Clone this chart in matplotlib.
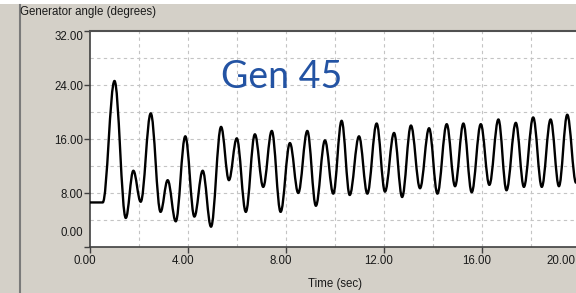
import matplotlib
matplotlib.use("Agg")
import matplotlib.pyplot as plt
import matplotlib.transforms as mtransforms
from matplotlib.patches import Rectangle, PathPatch
from matplotlib.lines import Line2D
from matplotlib.path import Path

# generator angle trace (turning points)
time_s = [0.00, 0.52, 1.00, 1.46, 1.77, 2.07, 2.48, 2.88, 3.17, 3.50,
          3.89, 4.26, 4.60, 4.94, 5.35, 5.67, 5.99, 6.36, 6.73, 7.07,
          7.42, 7.78, 8.16, 8.50, 8.87, 9.22, 9.59, 9.93, 10.27, 10.60,
          10.98, 11.32, 11.70, 12.04, 12.41, 12.74, 13.10, 13.47, 13.84, 14.18,
          14.56, 14.90, 15.24, 15.58, 15.95, 16.30, 16.67, 17.00, 17.38, 17.71,
          18.09, 18.44, 18.80, 19.14, 19.48, 19.84]
angle_deg = [6.6, 6.6, 24.6, 4.3, 11.3, 6.7, 19.8, 5.2, 9.9, 3.8,
             16.4, 4.5, 11.3, 3.0, 17.8, 9.9, 16.1, 5.2, 16.7, 8.9,
             17.2, 5.2, 15.4, 8.0, 17.2, 6.1, 15.8, 7.9, 18.7, 7.7,
             16.4, 7.9, 18.3, 8.2, 16.9, 7.4, 18.0, 8.7, 17.6, 7.9,
             18.2, 9.0, 18.3, 8.1, 18.2, 9.2, 18.9, 8.4, 18.4, 8.9,
             19.2, 8.9, 18.9, 9.0, 19.6, 9.5]

x_ticks = [0, 4, 8, 12, 16, 20]
x_labels = ["0.00", "4.00", "8.00", "12.00", "16.00", "20.00"]
y_ticks = [0, 8, 16, 24, 32]
y_labels = ["0.00", "8.00", "16.00", "24.00", "32.00"]
x_grid = [2, 4, 6, 8, 10, 12, 14, 16, 18]
y_grid = [4, 8, 12, 16, 20, 24, 28]

title = "Generator angle (degrees)"
x_title = "Time (sec)"
gen_label = "Gen 45"

plt.rcParams["font.family"] = ["Liberation Sans", "DejaVu Sans"]
W, H = 576, 293
fig = plt.figure(figsize=(W / 100, H / 100), dpi=100, facecolor="#D4D0C8")

# window chrome
fig.patches.append(Rectangle((0, 1 - 4 / H), 1, 4 / H, transform=fig.transFigure,
                             facecolor="white", edgecolor="none"))
fig.lines.append(Line2D([19.5 / W, 19.5 / W], [0, 1 - 5 / H], transform=fig.transFigure,
                        color="#7a7a7a", lw=1.5))
fig.text(20 / W, 1 - 12 / H, title, ha="left", va="center", fontsize=8.3, color="#1a1a1a")

ax = fig.add_axes([90 / W, 46 / H, 490 / W, 216 / H])
ax.set_facecolor("white")
ax.set_xlim(0, 20)
ax.set_ylim(0, 32)

for gx in x_grid:
    ax.axvline(gx, color="#c4c4c4", lw=0.8, dashes=(3, 3), zorder=1)
for gy in y_grid:
    ax.axhline(gy, color="#c4c4c4", lw=0.8, dashes=(3, 3), zorder=1)

# smooth swing between turning points (flat tangent at each one)
verts = [(time_s[0], angle_deg[0]), (time_s[1], angle_deg[1])]
codes = [Path.MOVETO, Path.LINETO]
k = 0.37
for i in range(1, len(time_s) - 1):
    t0, v0 = time_s[i], angle_deg[i]
    t1, v1 = time_s[i + 1], angle_deg[i + 1]
    dt = t1 - t0
    verts += [(t0 + k * dt, v0), (t1 - k * dt, v1), (t1, v1)]
    codes += [Path.CURVE4] * 3
ax.add_patch(PathPatch(Path(verts, codes), facecolor="none", edgecolor="black",
                       lw=1.7, joinstyle="round", zorder=3))

ax.text(0.267, 0.736, gen_label, transform=ax.transAxes, fontsize=27,
        family=["Lato", "DejaVu Sans"], color="#2353a3", ha="left", va="baseline")

ax.set_xticks(x_ticks)
ax.set_xticklabels(x_labels)
ax.set_yticks(y_ticks)
ax.set_yticklabels(y_labels)
ax.tick_params(direction="out", length=4, width=1, color="#404040",
               labelsize=8.3, labelcolor="#1a1a1a")
ax.tick_params(axis="x", pad=2)
ax.tick_params(axis="y", pad=1)
ax.set_xlabel(x_title, fontsize=8.3, color="#1a1a1a", labelpad=8)

for side in ["left", "bottom"]:
    ax.spines[side].set_color("#404040")
    ax.spines[side].set_linewidth(1.2)
ax.spines["top"].set_color("#505050")
ax.spines["top"].set_linewidth(1.5)
ax.spines["right"].set_visible(False)

# label placement quirks of the original tool
dpi_t = fig.dpi_scale_trans
for tick in ax.xaxis.get_major_ticks():
    lab = tick.label1
    lab.set_transform(lab.get_transform() + mtransforms.ScaledTranslation(-5 / 100, 0, dpi_t))
ax.xaxis.get_major_ticks()[-1].label1.set_ha("right")
ytk = ax.yaxis.get_major_ticks()
ytk[-1].label1.set_va("top")
ytk[0].label1.set_va("bottom")
ytk[0].label1.set_transform(ytk[0].label1.get_transform()
                            + mtransforms.ScaledTranslation(0, 8 / 100, dpi_t))

fig.savefig("out.png", dpi=100, facecolor=fig.get_facecolor())
